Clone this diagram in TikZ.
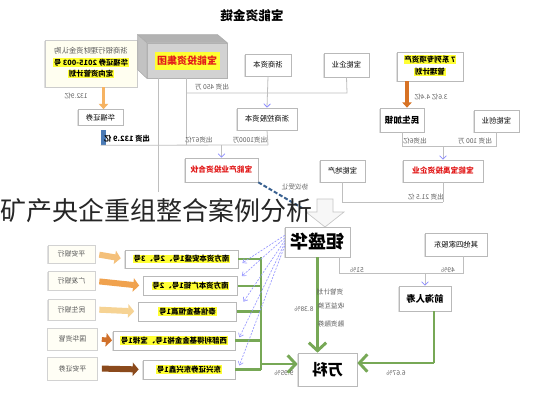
\documentclass[tikz,border=0pt]{standalone}
\usepackage{fontspec}
\setmainfont{Noto Sans CJK SC}
\usepackage{graphicx}
\usetikzlibrary{arrows.meta,shadows}
\definecolor{hly}{HTML}{FFFF33}
\definecolor{grn}{HTML}{77A856}
\definecolor{redt}{HTML}{E21B1B}
\definecolor{or1}{HTML}{F4C07A}
\definecolor{or2}{HTML}{F0A24E}
\definecolor{or3}{HTML}{F6D394}
\definecolor{or4}{HTML}{D0702A}
\definecolor{or5}{HTML}{8B4A1C}
\definecolor{bbar}{HTML}{4A7AB5}
\newcommand{\mr}[1]{\reflectbox{#1}}
\newcommand{\hlt}[1]{{\setlength{\fboxsep}{0.6pt}\colorbox{hly}{#1}}}
\begin{document}
\begin{tikzpicture}[x=0.75pt,y=-0.75pt,
  wh/.style 2 args={minimum width=#1*0.75pt, minimum height=#2*0.75pt},
  bx/.style={draw=gray!55, fill=white, line width=0.5pt, inner sep=0pt, align=center,
     font=\fontsize{5.5pt}{7pt}\selectfont, drop shadow={shadow xshift=-0.6pt, shadow yshift=-0.6pt, fill=gray!60, opacity=0.4}},
  lbl/.style={inner sep=0pt, font=\fontsize{5pt}{6pt}\selectfont, text=gray!75!black},
  ln/.style={draw=gray!50, line width=0.6pt},
  lna/.style={ln, -{Straight Barb[length=2.5pt,width=5pt,color=blue!45]}},
  gr/.style={draw=grn, line width=2.2pt},
  gra/.style={gr, -{Straight Barb[length=6pt,width=13pt]}},
  blk/.style={line width=4.5pt, -{Triangle[length=4.5pt,width=10pt]}, shorten <=3pt, shorten >=3pt},
  bd/.style={draw=blue!40, line width=0.5pt, dash pattern=on 1.5pt off 1pt, -{Straight Barb[length=2.5pt,width=4pt]}},
  redb/.style={bx, font=\fontsize{5.8pt}{7pt}\selectfont\bfseries, text=redt},
  bank/.style={bx, draw=gray!35, fill=yellow!4, text=gray!70!black, font=\fontsize{5.2pt}{6pt}\selectfont},
  prod/.style={bx, font=\fontsize{5.6pt}{7pt}\selectfont\bfseries}
]
\useasboundingbox (0,0) rectangle (534,400);
\fill[white] (0,0) rectangle (534,400);

% title
\node[font=\fontsize{9.5pt}{10pt}\selectfont\bfseries] (title) at (252,16) {\mr{宝能资金链}};

% top left box
\node[bx, wh={92}{47}, draw=gray!40, fill=yellow!6] (lt) at (91,63.5)
  {\mr{\begin{tabular}{@{}c@{}}{\color{gray!70!black}浙商银行理财资金认购}\\[1.2pt]
   \hlt{\bfseries 华福证券 2015-003 号}\\[1.2pt] \hlt{\bfseries 定向资管计划}\end{tabular}}};
\node[bx, wh={45}{16}] (hf) at (100.5,117.5) {\mr{华福证券}};
\node[fill=bbar, inner sep=0pt, wh={5}{15}] (bb) at (103.5,137.5) {};

% 3D box
\node[fill=gray!35, draw=gray!60, inner sep=0pt, wh={80}{35}] (bnf) at (187,60.5) {};
\fill[gray!60, draw=gray!65] (bnf.north west) -- ++(-9,-8) -- ++(80,0) -- (bnf.north east) -- cycle;
\fill[gray!48, draw=gray!65] (bnf.north west) -- ++(-9,-8) -- ++(0,35) -- (bnf.south west) -- cycle;
\node[fill=hly, inner sep=0pt, wh={65}{18}, text=redt, font=\fontsize{7.5pt}{8pt}\selectfont\bfseries] (bnt) at (bnf.center) {\mr{宝能投资集团}};

% top row boxes
\node[bx, wh={46}{22}] (zs) at (268,65) {\mr{浙商资本}};
\node[bx, wh={45}{24}] (bq) at (346.5,65) {\mr{宝能企业}};
\node[bx, wh={66}{29}, font=\fontsize{5.6pt}{7pt}\selectfont\bfseries] (ser) at (430,66.5)
  {\mr{\begin{tabular}{@{}c@{}}\hlt{7 系列专项资产}\\[1.5pt]\hlt{管理计划}\end{tabular}}};

% second row
\node[bx, wh={60}{22}] (zk) at (267,119) {\mr{浙商控股资本}};
\node[bx, wh={44}{24}, font=\fontsize{6.5pt}{7pt}\selectfont\bfseries] (ms) at (402,120) {\mr{民生加银}};
\node[bx, wh={45}{22}] (bc) at (496.5,121) {\mr{宝能创业}};

% third row
\node[redb, wh={73}{24}] (hh) at (221.5,170) {\mr{宝能产业投资合伙}};
\node[bx, wh={45}{22}] (dc) at (342.5,171) {\mr{宝能地产}};
\node[redb, wh={80}{22}] (by) at (443,171) {\mr{宝能宝禹投资企业}};

% lower part
\node[bx, wh={65}{30}, font=\fontsize{13.5pt}{14pt}\selectfont\bfseries] (jsh) at (317.5,242) {\mr{钜盛华}};
\node[bx, wh={62}{23}] (qt) at (456,244.5) {\mr{其他四家股东}};
\node[bx, wh={52}{25}, font=\fontsize{7pt}{8pt}\selectfont\bfseries] (qh) at (425,298.5) {\mr{前海人寿}};
\node[bx, wh={59}{33}, font=\fontsize{11.5pt}{12pt}\selectfont\bfseries] (wk) at (327.5,369.5) {\mr{万科}};

% banks
\node[bank, wh={47}{18}] (b1) at (71.5,254) {\mr{平安银行}};
\node[bank, wh={47}{19}] (b2) at (71.5,281) {\mr{广发银行}};
\node[bank, wh={47}{21}] (b3) at (71.5,309.5) {\mr{民生银行}};
\node[bank, wh={50}{22}] (b4) at (72.5,339) {\mr{国华资管}};
\node[bank, wh={50}{23}] (b5) at (72.5,368.5) {\mr{平安证券}};

% products
\node[prod, wh={113}{18}] (p1) at (181.5,259) {\mr{\hlt{南方资本安盛1号、2号、3号}}};
\node[prod, wh={94}{19}] (p2) at (190.5,286) {\mr{\hlt{南方资本广钜1号、2号}}};
\node[prod, wh={98}{19}] (p3) at (187.5,311.5) {\mr{\hlt{泰信基金恒赢1号}}};
\node[prod, wh={122}{19}] (p4) at (174,340.5) {\mr{\hlt{西部利得基金金裕1号、宝禄1号}}};
\node[prod, wh={92}{19}] (p5) at (189,369.5) {\mr{\hlt{东兴证券东兴鑫1号}}};

% bank arrows
\draw[blk, or1] (b1.east) -- (p1.west);
\draw[blk, or2] (b2.east) -- (p2.west);
\draw[blk, or3] (b3.east) -- (p3.west);
\draw[blk, or4, line width=3.5pt, shorten >=0.5pt] (b4.east) -- (p4.west);
\draw[blk, or5] (b5.east) -- (p5.west);

% coordinates
\coordinate (j0) at (158,192);
\coordinate (j1) at (186,145);
\coordinate (h2) at (268,145);
\coordinate (j3) at (347,93);
\coordinate (j4) at (186,93);
\coordinate (k1) at (443,146);
\coordinate (k2) at (443,202);
\coordinate (dq) at (302,208);
\coordinate (m1) at (339,273);
\coordinate (m2) at (463,273);
\coordinate (m3) at (425,273);
\coordinate (m4) at (434,363);
\coordinate (gt) at (261,257);
\coordinate (gb) at (261,370);
\coordinate (ga) at (261,364);

% top connectors
\draw[line width=2.6pt, draw=or1!80!orange, -{Triangle[length=4pt,width=7pt]}] (lt.south -| bb) -- (hf.north -| bb);
\draw[line width=2.6pt, draw=or4!85!orange, -{Triangle[length=4pt,width=7pt]}] (ser.south -| 407,0) -- (ms.north -| 407,0);
\draw[ln] (bb.south west) -- (h2);
\draw[ln] (zk.south) -- (h2);
\draw[ln] (bnf.south -| j1) -- (j1);
\draw[ln] (bnf.south -| j0) -- (j0);
\draw[lna] (hh.north |- h2) -- (hh.north);
\draw[lna] (zs.south) -- (zk.north);
\draw[ln] (bq.south) -- (j3) -- (j4);
\draw[ln] (ms.south) -- (ms.south |- k1) -- (bc.south |- k1) -- (bc.south);
\draw[lna] (k1) -- (by.north);
\draw[ln] (dc.south) -- (dc.south |- k2) -- (k2);
\draw[ln] (by.south) -- (k2);
\draw[draw=bbar!80!black, line width=1.5pt, dash pattern=on 3pt off 1.5pt] (hh.south east) -- (dq);

% big hollow arrow
\draw[fill=gray!6, draw=gray!45, line width=0.5pt] (317,199) -- (333,199) -- (333,212) -- (344,212) -- (325,227) -- (306,212) -- (317,212) -- cycle;

% lower connectors
\draw[ln] (jsh.south -| m1) -- (m1) -- (m2) -- (qt.south -| m2);
\draw[lna] (m3) -- (qh.north -| m3);
\draw[gra] (jsh.south) -- (jsh.south |- wk.north);
\draw[gr] (qh.south -| m4) -- (m4);
\draw[gra] (m4) -- (wk.east |- m4);
\foreach \p in {p1,p2,p3,p4,p5} { \draw[gr] (\p.east) -- (\p.east -| gt); }
\draw[gr] (gt) -- (gb);
\draw[gra] (ga) -- (wk.west |- ga);

% thin dashed arrows from jsh to products
\draw[bd] ([yshift=5pt]jsh.west) -- ([xshift=3pt,yshift=-3pt]p1.east);
\draw[bd] ([yshift=3pt]jsh.west) -- ([xshift=3pt]p2.north east);
\draw[bd] ([yshift=1pt]jsh.west) -- ([xshift=5pt]p3.north east);
\draw[bd] ([yshift=-1pt]jsh.west) -- ([xshift=3pt,yshift=-5pt]p4.north east);
\draw[bd] ([yshift=-3pt]jsh.west) -- ([xshift=3pt,yshift=3pt]p5.east);

% labels
\node[lbl] (l1) at (76,96) {\mr{132.9亿}};
\node[lbl, text=black, font=\fontsize{5.5pt}{6pt}\selectfont\bfseries] (l2) at (127,139) {\mr{出资 132.9 亿}};
\node[lbl] (l3) at (199,140) {\mr{出资67亿}};
\node[lbl] (l4) at (250,140) {\mr{出资1000万}};
\node[lbl] (l5) at (212,87) {\mr{出资 450 万}};
\node[lbl] (l6) at (431,97) {\mr{3.6亿 4.4亿}};
\node[lbl] (l7) at (415,141) {\mr{出资6亿}};
\node[lbl] (l8) at (475,141) {\mr{出资 100 万}};
\node[lbl] (l9) at (426,197) {\mr{出资 21.5 亿}};
\node[lbl] (l10) at (295,187) {\mr{协议受让}};
\node[lbl] (l11) at (357,270) {\mr{51\%}};
\node[lbl] (l12) at (448,270) {\mr{49\%}};
\node[lbl] (l13) at (330,292) {\mr{资管计划}};
\node[lbl] (l14) at (331,306) {\mr{收益互换}};
\node[lbl] (l15) at (331,324) {\mr{融资融券}};
\node[lbl] (l16) at (304,309) {\mr{8.38\%}};
\node[lbl] (l17) at (284,373) {\mr{9.95\%}};
\node[lbl] (l18) at (396,373) {\mr{6.67\%}};

% overlay caption
\node[anchor=west, inner sep=0pt, font=\fontsize{19.5pt}{20pt}\selectfont, text=black!85] (ov) at (0,211) {矿产央企重组整合案例分析};
\end{tikzpicture}
\end{document}
